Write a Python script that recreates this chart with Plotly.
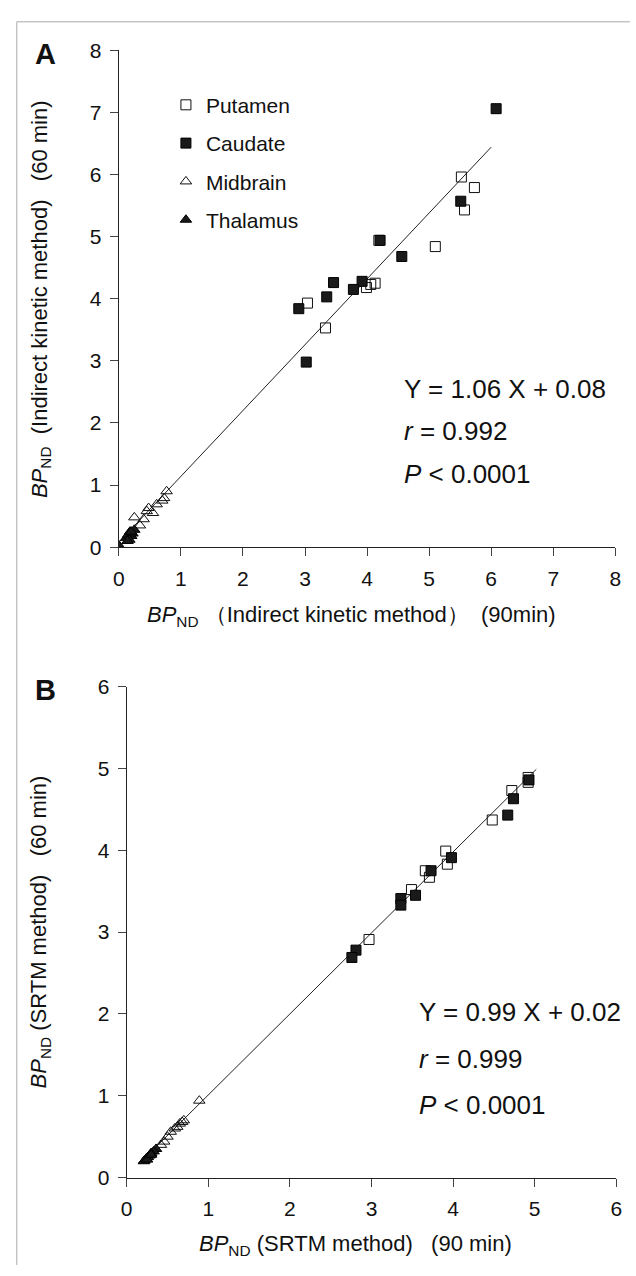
import plotly.graph_objects as go

W, H = 636, 1276

# ---------------- Panel A data (Indirect kinetic method) ----------------
a_put_x = [5.52, 5.73, 5.57, 4.19, 5.10, 4.13, 4.06, 3.99, 3.04, 3.33]
a_put_y = [5.96, 5.79, 5.43, 4.94, 4.84, 4.25, 4.23, 4.18, 3.93, 3.53]
a_cau_x = [6.08, 5.51, 4.21, 4.56, 3.46, 3.92, 3.78, 3.35, 2.90, 3.02]
a_cau_y = [7.06, 5.57, 4.94, 4.68, 4.26, 4.28, 4.15, 4.03, 3.84, 2.98]
a_mid_x = [0.77, 0.73, 0.70, 0.61, 0.48, 0.45, 0.55, 0.25, 0.34, 0.40]
a_mid_y = [0.90, 0.79, 0.75, 0.69, 0.63, 0.58, 0.55, 0.48, 0.35, 0.45]
a_tha_x = [0.12, 0.15, 0.18, 0.20, 0.22, 0.17, 0.14, 0.25, 0.20, 0.00]
a_tha_y = [0.15, 0.20, 0.25, 0.18, 0.22, 0.12, 0.10, 0.28, 0.25, 0.03]
a_fit = (1.06, 0.08)
a_fit_x = [0.0, 6.0]

# ---------------- Panel B data (SRTM method) ----------------
b_put_x = [4.92, 4.92, 4.72, 4.48, 3.91, 3.93, 3.66, 3.71, 3.49, 2.97]
b_put_y = [4.89, 4.83, 4.73, 4.37, 3.99, 3.83, 3.75, 3.67, 3.52, 2.91]
b_cau_x = [4.93, 4.74, 4.67, 3.98, 3.73, 3.54, 3.36, 3.36, 2.81, 2.76]
b_cau_y = [4.86, 4.63, 4.43, 3.91, 3.75, 3.45, 3.41, 3.33, 2.78, 2.69]
b_mid_x = [0.89, 0.70, 0.68, 0.65, 0.62, 0.59, 0.54, 0.50, 0.46, 0.42]
b_mid_y = [0.94, 0.70, 0.68, 0.66, 0.62, 0.60, 0.56, 0.50, 0.44, 0.40]
b_tha_x = [0.36, 0.33, 0.30, 0.28, 0.26, 0.24, 0.22, 0.21, 0.25, 0.30]
b_tha_y = [0.35, 0.32, 0.30, 0.27, 0.25, 0.23, 0.21, 0.20, 0.22, 0.28]
b_fit = (0.99, 0.02)
b_fit_x = [0.2, 5.02]

a_ticks = [0, 1, 2, 3, 4, 5, 6, 7, 8]
b_ticks = [0, 1, 2, 3, 4, 5, 6]

regions = ["Putamen", "Caudate", "Midbrain", "Thalamus"]
FONT = "Liberation Sans, Arial, sans-serif"
NB = "\u00a0"

def px_x(p):
    return p / W

def px_y(p):
    return 1 - p / H

styles = {
    "Putamen": dict(symbol="square-open", color="#111", line=dict(width=1, color="#111")),
    "Caudate": dict(symbol="square", color="#1a1a1a", line=dict(width=1, color="#000")),
    "Midbrain": dict(symbol="triangle-up-open", color="#111", line=dict(width=1, color="#111")),
    "Thalamus": dict(symbol="triangle-up", color="#1a1a1a", line=dict(width=1, color="#000")),
}

fig = go.Figure()

def add_panel(xs, ys, fit, fit_x, xa, ya, show, size):
    fx = fit_x
    fy = [fit[0] * v + fit[1] for v in fx]
    fig.add_trace(go.Scatter(x=fx, y=fy, mode="lines", line=dict(color="#222", width=1),
                             showlegend=False, xaxis=xa, yaxis=ya, hoverinfo="skip"))
    for name, x, y in zip(regions, xs, ys):
        st = styles[name]
        fig.add_trace(go.Scatter(
            x=x, y=y, mode="markers", name=name, legendgroup=name, showlegend=show,
            marker=dict(symbol=st["symbol"], size=size, color=st["color"], line=st["line"]),
            xaxis=xa, yaxis=ya))

add_panel([a_put_x, a_cau_x, a_mid_x, a_tha_x], [a_put_y, a_cau_y, a_mid_y, a_tha_y],
          a_fit, a_fit_x, "x", "y", True, 10)
add_panel([b_put_x, b_cau_x, b_mid_x, b_tha_x], [b_put_y, b_cau_y, b_mid_y, b_tha_y],
          b_fit, b_fit_x, "x2", "y2", False, 10)

axis_common = dict(showgrid=False, zeroline=False, showline=True, linecolor="#222", linewidth=1.3,
                   ticks="outside", ticklen=8, tickwidth=1, tickcolor="#444",
                   ticklabelstandoff=4,
                   tickfont=dict(family=FONT, size=21, color="#111"), mirror=False)

# Panel A plot area: x 115-621 px, y 39-545 px ; Panel B: x 123-622, y 687-1187
fig.update_layout(
    xaxis=dict(domain=[px_x(115), px_x(621)], range=[0, 8], tickvals=a_ticks, anchor="y", **axis_common),
    yaxis=dict(domain=[px_y(545), px_y(39)], range=[0, 8], tickvals=a_ticks, anchor="x", **axis_common),
    xaxis2=dict(domain=[px_x(123), px_x(622)], range=[0, 6], tickvals=b_ticks, anchor="y2", **axis_common),
    yaxis2=dict(domain=[px_y(1187), px_y(687)], range=[0, 6], tickvals=b_ticks, anchor="x2", **axis_common),
    width=W, height=H, margin=dict(l=0, r=0, t=0, b=0),
    paper_bgcolor="white", plot_bgcolor="white",
    font=dict(family=FONT, color="#111"),
    legend=dict(x=px_x(163), y=px_y(74), xanchor="left", yanchor="top",
                font=dict(family=FONT, size=21, color="#111"),
                tracegroupgap=8, bgcolor="rgba(0,0,0,0)", itemwidth=30),
    showlegend=True,
)

ann = []
def text(x, y, s, size=19, xanchor="center", angle=0):
    ann.append(dict(x=px_x(x), y=px_y(y), xref="paper", yref="paper", text=s, showarrow=False,
                    xanchor=xanchor, yanchor="middle", textangle=angle,
                    font=dict(family=FONT, size=size, color="#111")))

# panel letters
text(40, 43, "<b>A</b>", size=29)
text(40, 690, "<b>B</b>", size=29)

# axis titles
BP = "<i>BP</i><sub>ND</sub>"
text(352, 615, BP + NB + "（Indirect kinetic method）" + NB * 2 + "(90min)", size=22)
text(35, 292, BP + NB * 2 + "(Indirect kinetic method)" + NB * 3 + "(60 min)", size=22, angle=-90)
text(356, 1256, BP + " (SRTM method)" + NB * 3 + "(90 min)", size=22)
text(35, 937, BP + " (SRTM method)" + NB * 3 + "(60 min)", size=22, angle=-90)

# statistics
text(404, 384, "Y = 1.06 X + 0.08", size=26, xanchor="left")
text(404, 427, "<i>r</i> = 0.992", size=26, xanchor="left")
text(404, 470, "<i>P</i> < 0.0001", size=26, xanchor="left")
text(419, 1018, "Y = 0.99 X + 0.02", size=26, xanchor="left")
text(419, 1066, "<i>r</i> = 0.999", size=26, xanchor="left")
text(419, 1113, "<i>P</i> < 0.0001", size=26, xanchor="left")

fig.update_layout(annotations=ann)

# thin frame visible on top and left
fig.update_layout(shapes=[
    dict(type="line", xref="paper", yref="paper", x0=px_x(11), x1=1, y0=px_y(10), y1=px_y(10),
         line=dict(color="#aaa", width=1)),
    dict(type="line", xref="paper", yref="paper", x0=px_x(11), x1=px_x(11), y0=0, y1=px_y(10),
         line=dict(color="#aaa", width=1)),
])

fig.write_html("out.html")
